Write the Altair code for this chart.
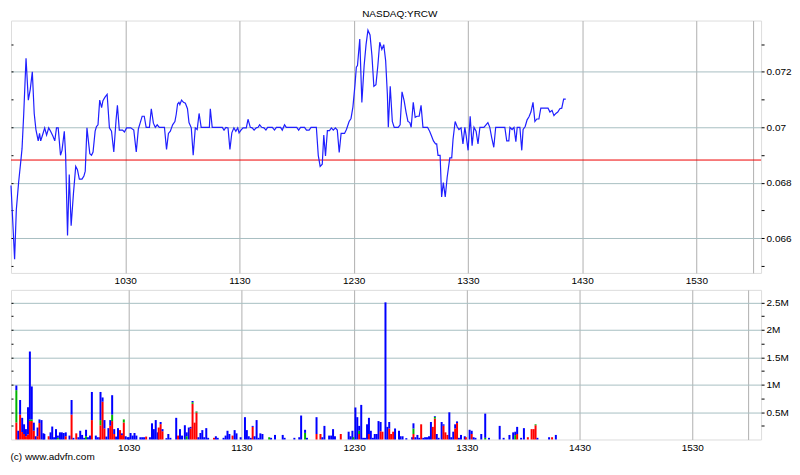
import altair as alt
import pandas as pd

FONT = "Liberation Sans"

# ---- price series: minutes after 09:30, last trade price ----
p_min = [0.0,1.9,2.8,4.0,5.3,5.8,6.7,7.9,9.1,10.1,11.2,12.2,13.1,14.3,15.0,15.6,16.7,17.7,18.7,19.8,
         20.8,22.0,23.0,23.9,24.8,26.0,26.8,28.0,28.7,29.7,30.6,31.6,32.8,34.0,34.9,35.9,37.3,38.3,39.0,39.9,
         41.4,42.3,43.1,44.2,44.9,45.7,46.6,47.6,48.3,49.3,50.5,51.7,52.8,54.0,55.2,55.9,56.9,58.6,59.6,60.7,
         62.9,64.5,65.8,66.9,67.9,68.9,70.0,71.0,72.7,73.7,74.8,75.8,76.8,77.9,80.6,81.7,82.7,83.7,84.9,86.1,
         86.8,87.5,88.2,88.7,89.6,90.6,91.6,92.7,93.5,94.7,95.7,96.8,97.8,98.8,99.9,104.2,104.7,105.7,111.0,111.9,
         112.9,114.0,115.0,116.0,117.1,118.1,119.1,119.8,120.8,121.9,123.6,124.5,125.7,126.7,127.7,128.8,129.8,130.6,131.7,132.9,
         133.9,134.8,137.3,138.4,139.4,141.6,142.5,143.7,144.6,
         148.0,150.1,151.1,152.1,154.2,155.2,156.6,157.6,160.4,161.4,162.4,163.5,164.3,165.2,166.2,167.3,168.3,169.3,170.4,171.4,
         172.4,173.4,175.2,176.2,177.6,178.6,179.6,180.7,181.4,182.0,183.2,184.3,185.5,186.5,187.5,188.6,189.6,190.6,191.7,192.7,
         193.7,194.8,195.8,196.8,197.7,198.2,199.2,200.3,201.3,203.4,204.4,205.4,206.5,207.5,208.5,209.5,210.2,211.3,212.3,213.3,
         214.4,215.4,216.4,218.8,219.9,220.9,221.9,223.0,223.6,224.3,225.4,226.2,227.1,228.1,229.1,230.5,231.5,232.2,233.3,234.3,
         235.3,236.4,237.4,238.4,239.1,240.1,241.2,242.2,243.2,244.3,245.3,246.3,248.4,250.5,251.5,252.5,253.6,254.6,259.4,260.4,
         261.5,262.1,263.2,264.2,265.2,265.9,267.3,268.3,269.0,270.1,271.1,272.1,273.1,274.2,275.2,276.2,277.3,278.3,282.1,283.1,
         284.2,285.2,286.2,287.2,288.3,289.3,290.3,291.4]
p_val = [0.06790,0.06524,0.06703,0.06801,0.06888,0.06923,0.07050,0.07249,0.07098,0.07136,
         0.07200,0.07050,0.06992,0.06951,0.06978,0.06951,0.06975,0.06998,0.06972,0.06998,
         0.06986,0.06969,0.06951,0.06998,0.06998,0.06899,0.06917,0.06986,0.06899,0.06610,
         0.06830,0.06645,0.06761,0.06859,0.06847,0.06813,0.06813,0.06824,0.06842,0.06998,
         0.06905,0.06899,0.06911,0.06986,0.07003,0.07009,0.07098,0.07071,0.07096,0.07108,
         0.07119,0.06998,0.06986,0.06911,0.07027,0.07079,0.06990,0.06990,0.06983,0.06998,
         0.06998,0.06990,0.06911,0.06994,0.07017,0.07040,0.07040,0.07000,0.07000,0.07067,
         0.07015,0.07000,0.07009,0.07000,0.07000,0.06920,0.06978,0.06986,0.07009,0.07021,
         0.07047,0.07084,0.07090,0.07082,0.07098,0.07090,0.07087,0.07067,0.07017,0.06998,
         0.06899,0.06998,0.06992,0.07050,0.07000,0.07000,0.07067,0.07000,0.07000,0.06990,
         0.07000,0.06998,0.06920,0.06980,0.06998,0.06986,0.06998,0.06980,0.06990,0.06998,
         0.06998,0.07029,0.07000,0.06998,0.06990,0.06998,0.07000,0.07009,0.07000,0.06998,
         0.06990,0.07000,0.07000,0.06990,0.07000,0.07000,0.06990,0.07009,0.07000,
         0.07000,0.07000,0.06990,0.07000,0.07000,0.06990,0.06990,0.07000,0.07000,0.06899,
         0.06859,0.06867,0.06972,0.06897,0.06988,0.06988,0.06998,0.06990,0.06998,0.06990,
         0.06909,0.06978,0.06978,0.06992,0.07021,0.07032,0.07073,0.07154,0.07217,0.07223,
         0.07318,0.07090,0.07223,0.07298,0.07350,0.07333,0.07258,0.07148,0.07154,0.07223,
         0.07307,0.07281,0.07298,0.07240,0.07119,0.07000,0.07148,0.07021,0.07000,0.07000,
         0.07009,0.07128,0.07096,0.07055,0.07021,0.07017,0.07000,0.07090,0.07036,0.07040,
         0.07040,0.07079,0.07000,0.07000,0.06986,0.06969,0.06951,0.06940,0.06940,0.06899,
         0.06899,0.06749,0.06801,0.06749,0.06819,0.06890,0.06890,0.06957,0.07021,0.07003,
         0.06992,0.06998,0.06940,0.07000,0.06969,0.06917,0.07040,0.06934,0.07000,0.06986,
         0.06940,0.07000,0.07000,0.07017,0.07000,0.06963,0.06928,0.07000,0.07000,0.06951,
         0.06951,0.07000,0.06992,0.07000,0.06948,0.07000,0.07000,0.06917,0.06992,0.07003,
         0.07027,0.07038,0.07055,0.07090,0.07021,0.07030,0.07030,0.07069,0.07069,0.07055,
         0.07061,0.07042,0.07050,0.07055,0.07067,0.07069,0.07102,0.07102]
prev_close = 0.06882

# ---- volume: minutes after 09:30, total (thousands), red part, green part ----
v_min = [0.2,1.2,2.2,3.3,4.3,5.3,6.4,7.4,8.4,9.5,10.5,11.5,12.5,13.6,14.6,15.1,17.4,18.4,19.3,20.3,
         21.3,22.3,23.4,24.4,25.4,26.5,28.5,29.6,30.6,32.1,33.2,34.2,35.2,36.3,37.3,38.3,39.4,40.4,42.5,43.5,
         44.5,45.0,46.1,47.1,48.1,49.2,50.2,51.2,52.3,53.3,54.3,55.4,56.4,57.4,58.4,59.5,60.0,61.0,62.1,63.1,
         64.1,66.2,67.2,68.2,69.3,71.3,72.4,73.4,74.4,75.5,76.0,77.0,78.0,80.1,81.1,82.2,85.3,86.3,87.3,88.4,
         89.9,90.9,92.0,93.0,94.0,95.1,96.1,97.1,98.2,99.2,100.2,101.3,102.3,105.4,106.4,107.4,110.5,111.6,112.6,113.6,
         115.3,116.4,117.4,119.6,121.9,122.9,123.9,125.0,126.0,127.0,128.1,129.1,130.1,131.2,134.8,135.8,137.9,142.0,143.0,148.2,
         150.8,151.8,153.9,154.9,160.0,162.1,163.1,164.2,166.7,167.8,168.8,169.8,172.9,177.1,178.1,179.1,179.6,180.7,181.7,182.7,
         183.8,184.8,185.8,186.9,187.9,188.9,190.0,191.0,192.0,193.0,194.1,195.1,196.7,197.7,198.7,199.7,200.8,201.8,203.9,204.7,
         205.8,207.8,210.9,211.6,212.6,213.7,214.7,215.7,216.8,217.8,218.8,219.9,220.9,221.9,223.0,224.0,225.0,226.6,227.6,228.6,
         229.7,230.7,231.7,232.8,233.8,234.8,235.8,236.9,238.9,239.5,241.5,242.6,243.6,244.6,247.7,249.8,251.8,257.5,259.6,262.7,
         264.7,265.8,266.8,268.9,270.4,272.5,274.5,275.6,276.6,277.6,283.8,285.4,287.4]
v_tot = [985,159,720,395,277,189,590,1605,968,307,59,218,366,354,112,100,59,130,236,41,
         189,71,130,130,118,130,71,720,30,112,41,159,83,30,177,41,71,867,71,41,
         41,867,767,354,53,207,354,808,189,53,207,171,112,366,59,41,41,118,71,118,
         71,41,41,41,53,41,295,189,354,130,218,319,189,24,100,30,395,71,189,71,
         260,130,218,230,702,307,513,41,118,171,41,207,30,30,59,30,30,71,159,100,
         71,171,112,41,407,171,59,30,248,59,354,30,112,100,41,30,83,83,30,30,
         41,437,177,30,407,100,41,248,71,71,189,59,100,142,59,159,41,584,407,248,
         631,30,30,277,395,159,30,100,100,336,319,142,2502,230,319,100,142,201,159,59,
         59,24,41,295,41,83,30,277,30,41,41,59,319,230,425,100,30,319,277,130,
         83,496,41,142,277,330,30,83,59,41,177,159,41,30,100,472,30,248,30,83,
         130,142,230,30,207,41,189,189,277,30,41,41,83]
v_red = [310,0,454,136,100,60,90,336,336,160,0,60,300,0,0,0,59,0,0,0,
         0,0,0,0,0,60,0,454,0,112,0,0,0,0,0,0,0,354,0,0,
         0,260,690,200,0,0,250,336,100,0,0,171,80,310,0,0,0,0,0,0,
         0,0,0,0,53,0,0,0,0,0,218,280,150,0,0,0,0,71,0,0,
         0,0,0,200,650,307,490,0,0,0,0,0,0,30,0,0,0,0,0,0,
         71,0,0,0,0,0,0,0,230,0,0,0,0,0,0,0,0,0,0,0,
         0,0,0,0,100,100,0,0,0,0,0,0,100,0,0,0,0,0,0,100,
         0,0,0,0,100,0,0,0,0,0,150,142,0,0,200,100,142,0,0,0,
         0,0,0,100,0,0,0,277,0,0,0,0,0,230,380,0,0,0,250,130,
         83,0,0,0,200,300,0,0,0,41,0,100,0,0,0,0,0,0,0,0,
         0,0,100,0,0,41,189,189,260,0,0,41,0]
v_grn = [590,0,0,0,0,0,0,30,30,0,0,0,0,0,0,0,0,0,0,0,
         0,30,0,0,0,0,0,0,0,0,0,0,0,0,60,0,0,0,0,0,
         0,94,0,0,0,0,0,118,0,0,0,0,0,56,0,0,0,0,0,0,
         0,0,0,0,0,0,0,0,0,0,0,0,0,0,0,0,0,0,0,0,
         0,60,0,0,30,0,20,0,0,0,0,0,0,0,0,0,0,0,0,0,
         0,0,0,0,0,0,0,0,0,0,0,0,0,0,41,0,0,0,0,0,
         0,0,120,0,0,0,0,0,0,0,0,0,0,0,0,0,41,0,0,60,
         0,0,0,0,0,0,0,0,0,0,0,0,0,0,0,0,0,0,0,0,
         0,0,0,100,0,0,0,0,0,0,0,0,0,0,30,0,0,0,0,0,
         0,0,0,0,0,0,0,0,0,0,0,0,0,0,0,30,0,0,0,0,
         0,80,0,0,0,0,0,0,17,0,0,0,0]

# ---- axis values ----
x_ticks = [60, 120, 180, 240, 300, 360, 390]
p_ticks_milli = [65, 66, 67, 68, 69, 70, 71, 72, 73]      # price in thousandths of a dollar
v_ticks = [250, 500, 750, 1000, 1250, 1500, 1750, 2000, 2250, 2500]
title_text = "NASDAQ:YRCW"
copyright_text = "(c) www.advfn.com"

# ---- tables ----
price_df = pd.DataFrame({"t": p_min[:len(p_val)], "p": p_val[:len(p_min)]})
prev_df = pd.DataFrame({"p": [prev_close]})

rows = []
n = min(len(v_min), len(v_tot), len(v_red), len(v_grn))
for i in range(n):
    r, g, tot = v_red[i], v_grn[i], v_tot[i]
    b = max(tot - r - g, 0)
    base = 0
    for kind, amt in (("red", r), ("green", g), ("blue", b)):
        if amt > 0:
            rows.append({"t": v_min[i], "y0": base, "y1": base + amt, "kind": kind})
            base += amt
vol_df = pd.DataFrame(rows)

W = 752
H1 = 253
H2 = 150

GRID_V = "#b0b0b0"
GRID_H = "#a8bfc2"

xscale = alt.Scale(domain=[0, 394], nice=False, zero=False)
x_label_expr = ("datum.value >= 390 ? '' : '' + (floor((570 + datum.value) / 60) * 100"
                " + (570 + datum.value) % 60)")

def x_axis():
    return alt.Axis(values=x_ticks, labelExpr=x_label_expr, orient="bottom", ticks=False,
                    domain=False, grid=True, gridColor=GRID_V, gridWidth=1, title=None,
                    labelPadding=3, labelFontSize=10, labelFont=FONT, labelColor="black",
                    labelFlush=False)

def inner_left_axis(vals):
    return alt.Axis(values=vals, orient="left", title=None, domain=False, labels=False, grid=False,
                    ticks=True, tickSize=2, tickColor="black", offset=-2)

price_axis = alt.Axis(
    values=p_ticks_milli, orient="right", title=None, domain=False, ticks=True, tickSize=3,
    tickColor="black", labelPadding=2, labelFont=FONT, labelFontSize=10, labelColor="black",
    labelExpr="datum.value % 2 === 0 ? format(datum.value / 1000, '~g') : ''",
    grid=True, gridColor=GRID_H,
    gridOpacity={"condition": {"test": "datum.value % 2 === 0", "value": 1}, "value": 0},
)
pscale = alt.Scale(domain=[64.75, 73.85], nice=False, zero=False)

line = alt.Chart(price_df).transform_calculate(pm="datum.p * 1000").mark_line(
    color="#1f1fff", strokeWidth=1.2).encode(
    x=alt.X("t:Q", scale=xscale, axis=x_axis()),
    y=alt.Y("pm:Q", scale=pscale, axis=price_axis),
)
prev_rule = alt.Chart(prev_df).transform_calculate(pm="datum.p * 1000").mark_rule(
    color="#ee0000", strokeWidth=1).encode(y=alt.Y("pm:Q", scale=pscale, axis=inner_left_axis(p_ticks_milli)))

top = alt.layer(prev_rule, line).resolve_scale(y="independent").properties(width=W, height=H1)

vol_axis = alt.Axis(
    values=v_ticks, orient="right", title=None, domain=False, ticks=True, tickSize=3,
    tickColor="black", labelPadding=2, labelFont=FONT, labelFontSize=10, labelColor="black",
    labelExpr="datum.value % 500 === 0 ? format(datum.value / 1000, '~g') + 'M' : ''",
    grid=True, gridColor=GRID_H,
    gridOpacity={"condition": {"test": "datum.value % 500 === 0", "value": 1}, "value": 0},
)
vscale = alt.Scale(domain=[0, 2730], nice=False)

bars = alt.Chart(vol_df).mark_bar(size=2, orient="vertical").encode(
    x=alt.X("t:Q", scale=xscale, axis=x_axis()),
    y=alt.Y("y1:Q", scale=vscale, axis=vol_axis),
    y2="y0:Q",
    color=alt.Color("kind:N", scale=alt.Scale(domain=["red", "green", "blue"],
                                             range=["#ff0000", "#00b400", "#0000ff"]), legend=None),
)
bars_ticks = alt.Chart(vol_df).mark_bar(size=2, orient="vertical", opacity=0).encode(
    x=alt.X("t:Q", scale=xscale, axis=x_axis()),
    y=alt.Y("y1:Q", scale=vscale, axis=inner_left_axis(v_ticks)),
    y2="y0:Q",
)

vol = alt.layer(bars_ticks, bars).resolve_scale(y="independent").properties(
    width=W, height=H2,
    title=alt.TitleParams(copyright_text, orient="bottom", anchor="start", fontSize=10, font=FONT,
                          fontWeight="normal", color="black", offset=0),
)

chart = alt.vconcat(top, vol, spacing=2).properties(
    title=alt.TitleParams(title_text, anchor="middle", fontSize=10, font=FONT, fontWeight="normal",
                          color="black", offset=1),
    padding=0,
).configure_view(stroke="black", strokeWidth=1.5).configure(background="white")

chart.save("out.html", embed_options={"renderer": "svg", "actions": False})
